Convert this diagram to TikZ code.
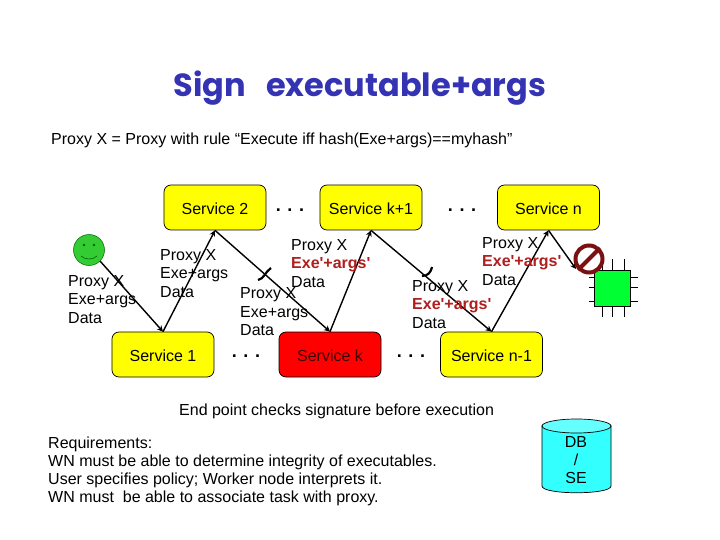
\documentclass[tikz,border=0pt]{standalone}
\usepackage{fontspec}
\usetikzlibrary{arrows.meta}
\setmainfont{Liberation Sans}
\newfontfamily\titlefont{Poppins}
\newfontfamily\exefont{Liberation Sans}
\definecolor{svcyellow}{HTML}{FFFF00}
\definecolor{svcred}{HTML}{FF0000}
\definecolor{titleblue}{HTML}{3333B4}
\definecolor{exered}{HTML}{B01E1E}
\definecolor{stopred}{HTML}{7A1010}
\definecolor{usergreen}{HTML}{33CC33}
\definecolor{chipgreen}{HTML}{00FF33}
\definecolor{cylside}{HTML}{33FFFF}
\definecolor{cyltop}{HTML}{66FFFF}
\tikzset{
  svc/.style={draw=black,line width=0.7pt,rounded corners=7pt,minimum width=102pt,minimum height=45pt,inner sep=0pt,text height=13.5pt,text depth=0pt,font=\fontsize{16}{18}\selectfont},
  flow/.style={draw=black,line width=1.4pt,-{Stealth[length=6pt,width=6pt]}},
  txt/.style={align=left,anchor=north west,inner sep=0pt,font=\fontsize{16}{18.5}\selectfont},
  dots/.style={inner sep=0pt,font=\bfseries\fontsize{18}{18}\selectfont},
  tick/.style={draw=black,line width=2.2pt},
  pin/.style={draw=black,line width=0.6pt}
}
\newcommand{\ered}{\textcolor{exered}{{\exefont\bfseries Exe'+args'}}}
\begin{document}
\begin{tikzpicture}[x=1pt,y=-1pt]
\useasboundingbox (0,0) rectangle (720,540);
\fill[white] (0,0) rectangle (720,540);
\node[inner sep=0pt,text=titleblue,font=\titlefont\bfseries\fontsize{32}{36}\selectfont] (title) at (360,88) {Sign\hspace{20pt}executable+args};
\node[anchor=west,inner sep=0pt,font=\fontsize{16}{18}\selectfont] (rule) at (51,140) {Proxy X = Proxy with rule “Execute iff hash(Exe+args)==myhash”};
\node[svc,fill=svcyellow] (s2) at (215,207.5) {Service 2};
\node[svc,fill=svcyellow] (sk1) at (371,207.5) {Service k+1};
\node[svc,fill=svcyellow] (sn) at (548.5,207.5) {Service n};
\node[svc,fill=svcyellow] (s1) at (163,354.5) {Service 1};
\node[svc,fill=svcred,text=black!75!red] (sk) at (330,354.5) {Service k};
\node[svc,fill=svcyellow] (sn1) at (491.5,354.5) {Service n-1};
% smiley
\node[circle,draw=black!60!green,line width=0.5pt,fill=usergreen,minimum size=31pt,inner sep=0pt] (user) at (89,250) {};
\fill[black!60!green] (84,245) circle (1.3pt) (94,245) circle (1.3pt);
\draw[black!60!green,line width=0.6pt] (81,256) .. controls (85,260) and (93,260) .. (97,256);
% chip
\node[draw=black,line width=0.6pt,fill=chipgreen,minimum size=36pt,inner sep=0pt] (chip) at (612,288) {};
\foreach \px in {602,612,624}{\draw[pin] (\px,259) -- (\px,270) (\px,306) -- (\px,317);}
\foreach \py in {277,287,301}{\draw[pin] (589,\py) -- (594,\py) (630,\py) -- (638,\py);}
\coordinate (chipend) at (576,269);
% connectors
\draw[flow] (user.south east) -- (s1.north);
\draw[flow] (s1.north) -- (s2.south);
\draw[flow] (s2.south) -- (sk.north);
\draw[flow] (sk.north) -- (sk1.south);
\draw[flow] (sk1.south) -- (sn1.north);
\draw[flow] (sn1.north) -- (sn.south);
\draw[flow] (sn.south) -- (chipend);
% ticks
\draw[tick] (258,280) .. controls (264,279) and (265,272) .. (271,268);
\draw[tick] (422,276) .. controls (428,276) and (431,272) .. (432,267);
% stop sign
\node[circle,draw=stopred,line width=4pt,minimum size=27pt,inner sep=0pt] (stop) at (589,259) {};
\draw[stopred,line width=4pt] (stop.south west) -- (stop.north east);
% dots
\node[dots] (d1) at (290,210) {. . .};
\node[dots] (d2) at (462,210) {. . .};
\node[dots] (d3) at (246,356) {. . .};
\node[dots] (d4) at (411,356) {. . .};
% labels
\node[txt] (l1) at (68,275) {Proxy X\\Exe+args\\Data};
\node[txt] (l2) at (160,249) {Proxy X\\Exe+args\\Data};
\node[txt] (l3) at (240,287.5) {Proxy X\\Exe+args\\Data};
\node[txt] (l4) at (291,239) {Proxy X\\\ered\\Data};
\node[txt] (l5) at (412,280) {Proxy X\\\ered\\Data};
\node[txt] (l6) at (482,237) {Proxy X\\\ered\\Data};
\node[anchor=west,inner sep=0pt,font=\fontsize{16}{18}\selectfont] (ep) at (179,411) {End point checks signature before execution};
\node[txt,font=\fontsize{16}{18}\selectfont] (req) at (48,437) {Requirements:\\WN must be able to determine integrity of executables.\\User specifies policy; Worker node interprets it.\\WN must\ \ be able to associate task with proxy.};
% cylinder
\draw[black,line width=0.7pt,fill=cylside] (542,426) -- (542,486) .. controls (542,495) and (611,495) .. (611,486) -- (611,426) -- cycle;
\draw[black,line width=0.7pt,fill=cyltop] (576.5,426) ellipse[x radius=34.5pt,y radius=7pt];
\node[align=center,inner sep=0pt,font=\fontsize{16}{18}\selectfont] (db) at (576,460) {DB\\/\\SE};
\end{tikzpicture}
\end{document}
